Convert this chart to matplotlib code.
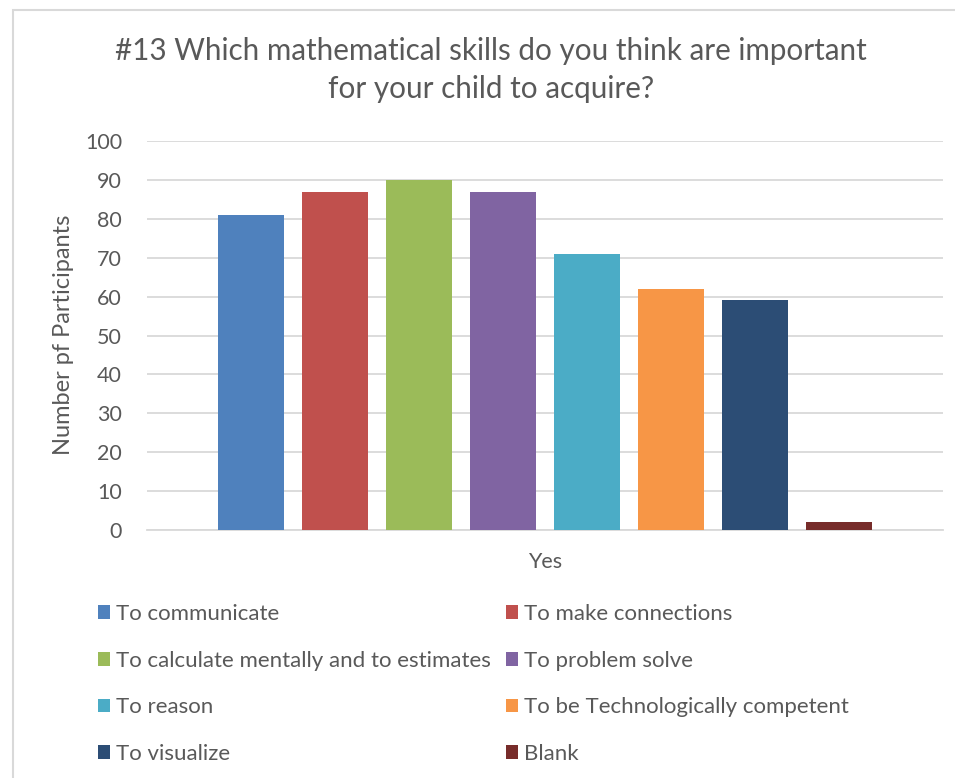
import matplotlib
matplotlib.use("Agg")
import matplotlib.pyplot as plt
from matplotlib.patches import Rectangle

# survey answers, one bar per skill inside the single "Yes" group
skills = [
    "To communicate",
    "To make connections",
    "To calculate mentally and to estimates",
    "To problem solve",
    "To reason",
    "To be Technologically competent",
    "To visualize",
    "Blank",
]
counts = [81, 87, 90, 87, 71, 62, 59, 2]
colors = ["#4F81BD", "#C0504D", "#9BBB59", "#8064A2",
          "#4BACC6", "#F79646", "#2C4D75", "#772C2A"]
category = "Yes"
yticks = list(range(0, 101, 10))

title = "#13 Which mathematical skills do you think are important\nfor your child to acquire?"
ylabel = "Number pf Participants"

text_color = "#595959"
grid_color = "#D9D9D9"

plt.rcParams["font.family"] = ["Lato", "DejaVu Sans"]

W, H = 955, 778
fig = plt.figure(figsize=(W / 100, H / 100), dpi=100)

# light chart-area frame
fig.patches.append(Rectangle((13 / W, -0.1), 1.2, 1 - 10 / H + 0.1,
                             transform=fig.transFigure, fill=False,
                             edgecolor=grid_color, linewidth=1.5))

ax = fig.add_axes([147 / W, 1 - 530 / H, 796 / W, 389 / H])

n = len(counts)
xs = list(range(n))
bars = []
for i in xs:
    b = ax.bar(i, counts[i], width=0.79, color=colors[i], label=skills[i], zorder=3)
    bars.append(b)

ax.set_xlim(-1.238, n - 1 + 1.238)
ax.set_ylim(0, 100)
ax.set_yticks(yticks)
ax.set_xticks([(n - 1) / 2])
ax.set_xticklabels([category])

ax.yaxis.grid(True, color=grid_color, linewidth=1.3, zorder=0)
for s in ["top", "right", "left"]:
    ax.spines[s].set_visible(False)
ax.spines["bottom"].set_color(grid_color)
ax.spines["bottom"].set_linewidth(1.3)
ax.tick_params(axis="y", length=0, pad=18, labelsize=15.5, labelcolor=text_color)
ax.tick_params(axis="x", length=0, pad=16, labelsize=15.5, labelcolor=text_color)

fig.text(63 / W, 1 - 335 / H, ylabel, rotation=90, ha="center", va="center",
         fontsize=17, color=text_color)

fig.text(491 / W, 1 - 70 / H, title, ha="center", va="center",
         fontsize=21.3, color=text_color, linespacing=1.45)

# legend laid out row by row in two fixed columns
handles = [b.patches[0] for b in bars]
leg_kw = dict(frameon=False, fontsize=16, handlelength=0.56, handleheight=0.56,
              handletextpad=0.25, labelspacing=1.2, labelcolor=text_color,
              borderaxespad=0, borderpad=0)
left = fig.legend([handles[i] for i in (0, 2, 4, 6)], [skills[i] for i in (0, 2, 4, 6)],
                  loc="upper left", bbox_to_anchor=(98 / W, 1 - 604 / H), **leg_kw)
right = fig.legend([handles[i] for i in (1, 3, 5, 7)], [skills[i] for i in (1, 3, 5, 7)],
                   loc="upper left", bbox_to_anchor=(506 / W, 1 - 604 / H), **leg_kw)

fig.savefig("out.png", dpi=100)
plt.close(fig)
